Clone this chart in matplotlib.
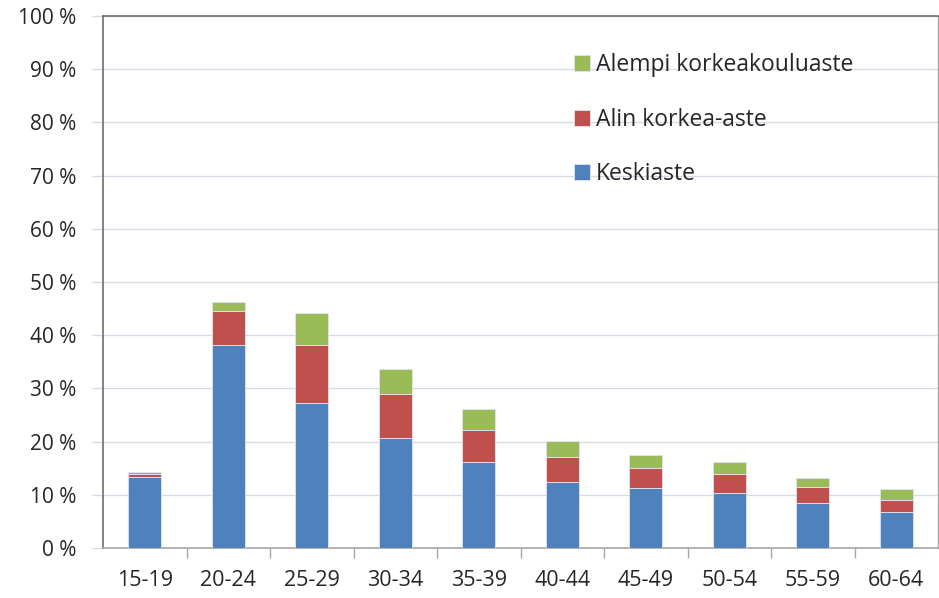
import matplotlib
matplotlib.use("Agg")
import matplotlib.pyplot as plt
from matplotlib.ticker import FixedLocator
import numpy as np

categories = ["15-19", "20-24", "25-29", "30-34", "35-39", "40-44", "45-49", "50-54", "55-59", "60-64"]
keskiaste = [13.4, 38.1, 27.3, 20.6, 16.1, 12.5, 11.3, 10.3, 8.4, 6.75]
alin_korkea = [0.5, 6.5, 10.8, 8.4, 6.0, 4.6, 3.8, 3.6, 3.1, 2.35]
alempi_korkea = [0.3, 1.7, 6.0, 4.7, 4.0, 3.0, 2.4, 2.2, 1.7, 2.0]
y_ticks = [0, 10, 20, 30, 40, 50, 60, 70, 80, 90, 100]

plt.rcParams['font.family'] = ['Open Sans', 'DejaVu Sans']

fig = plt.figure(figsize=(9.39, 5.98), dpi=100)
ax = fig.add_axes([103/939, 50/598, 835/939, 532/598])

x = np.arange(len(categories))
w = 0.4
b1 = ax.bar(x, keskiaste, w, color="#4F81BD", edgecolor="#dfe6f0", linewidth=0.6, label="Keskiaste", zorder=3)
bot2 = np.array(keskiaste)
b2 = ax.bar(x, alin_korkea, w, bottom=bot2, color="#C0504D", edgecolor="#dfe6f0", linewidth=0.6, label="Alin korkea-aste", zorder=3)
bot3 = bot2 + np.array(alin_korkea)
b3 = ax.bar(x, alempi_korkea, w, bottom=bot3, color="#9BBB59", edgecolor="#dfe6f0", linewidth=0.6, label="Alempi korkeakouluaste", zorder=3)

ax.set_xlim(-0.5, len(categories) - 0.5)
ax.set_ylim(0, 100)
ax.set_yticks(y_ticks)
ax.set_yticklabels([f"{t} %" for t in y_ticks])
ax.set_xticks(x)
ax.set_xticklabels(categories)
ax.xaxis.set_minor_locator(FixedLocator(np.arange(0.5, len(categories) - 0.5, 1.0)))

ax.yaxis.grid(True, color="#d5dce6", linewidth=1.0, zorder=0)
ax.set_axisbelow(True)

for s in ["left", "top"]:
    ax.spines[s].set_color("#6d6d6d")
    ax.spines[s].set_linewidth(1.2)
ax.spines["bottom"].set_color("#a6a6a6")
ax.spines["bottom"].set_linewidth(1.2)
ax.spines["right"].set_color("#a6a6a6")
ax.spines["right"].set_linewidth(1.0)

ax.tick_params(axis="y", length=8, width=1, color="#d5dce6", labelsize=15, labelcolor="#262626", pad=11)
ax.tick_params(axis="x", which="major", length=0, labelsize=15.5, labelcolor="#262626", pad=16)
ax.tick_params(axis="x", which="minor", length=7, width=1, color="#a6a6a6")

leg = ax.legend(handles=[b3, b2, b1], loc="upper left", bbox_to_anchor=(0.553, 0.947),
                frameon=False, fontsize=16.5, labelspacing=1.33, handlelength=0.7,
                handleheight=0.7, handletextpad=0.25, borderaxespad=0)
for t in leg.get_texts():
    t.set_color("#262626")

fig.savefig("out.png", dpi=100)
